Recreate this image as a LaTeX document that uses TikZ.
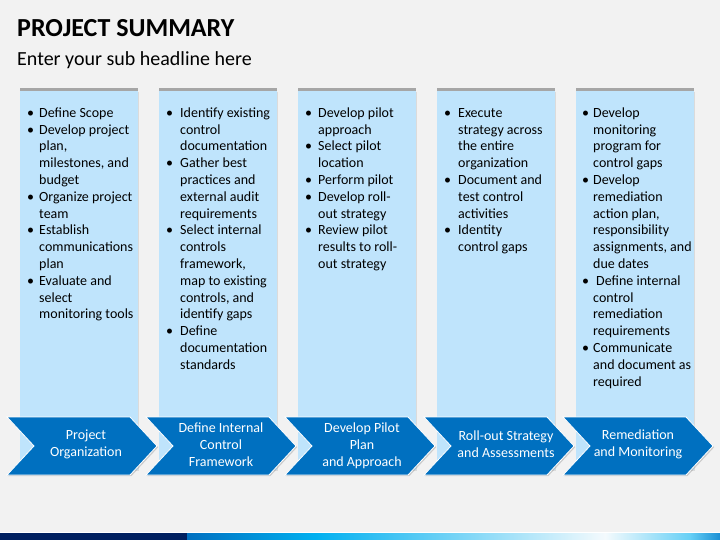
\documentclass[tikz,border=0pt]{standalone}
\usepackage{fontspec}
\setmainfont{Carlito}
\usetikzlibrary{shadows}

\definecolor{slidebg}{HTML}{F2F2F2}
\definecolor{colblue}{HTML}{BFE4FC}
\definecolor{colgray}{HTML}{A6A6A6}
\definecolor{chevblue}{HTML}{0070C0}
\definecolor{barnavy}{HTML}{002060}
\definecolor{barcyan}{HTML}{00B0F0}
\definecolor{barlight}{HTML}{F4FAFD}
\definecolor{barend}{HTML}{1A8FD4}

\tikzset{
  column/.style={fill=colblue, drop shadow={shadow xshift=1pt, shadow yshift=-1pt, opacity=0.2}},
  chevron/.style={fill=chevblue, draw=white, line width=0.8pt,
    drop shadow={shadow xshift=1.2pt, shadow yshift=-1.2pt, opacity=0.35}},
  phase/.style={text=white, align=center, inner sep=0pt, font=\fontsize{14}{16.8}\selectfont},
  bullets/.style={anchor=north west, inner sep=0pt, font=\fontsize{14}{16.8}\selectfont},
}

\begin{document}
\begin{tikzpicture}
  \begin{scope}[x=1pt, y=-1pt]
  \fill[slidebg] (0,0) rectangle (720,540);
  \useasboundingbox (0,0) rectangle (720,540);

  % headline
  \node[anchor=base west, inner sep=0pt, font=\fontsize{26}{31.2}\selectfont\bfseries] (title) at (17,36.5) {PROJECT SUMMARY};
  \node[anchor=base west, inner sep=0pt, font=\fontsize{20}{24}\selectfont] (subtitle) at (17,65.5) {Enter your sub headline here};

  % columns
  \fill[column] (20,91) rectangle (138,470);
  \fill[column] (159,91) rectangle (277,470);
  \fill[column] (298,91) rectangle (416,470);
  \fill[column] (437,91) rectangle (555,470);
  \fill[column] (576,91) rectangle (694,470);
  \fill[colgray] (20,88) rectangle (138,91);
  \fill[colgray] (159,88) rectangle (277,91);
  \fill[colgray] (298,88) rectangle (416,91);
  \fill[colgray] (437,88) rectangle (555,91);
  \fill[colgray] (576,88) rectangle (694,91);

  \node[bullets] (list1) at (27,105.3) {\begin{tabular}{@{}p{12pt}@{}l@{}}
    \textbullet & Define Scope\\
    \textbullet & Develop project\\ & plan,\\ & milestones, and\\ & budget\\
    \textbullet & Organize project\\ & team\\
    \textbullet & Establish\\ & communications\\ & plan\\
    \textbullet & Evaluate and\\ & select\\ & monitoring tools
  \end{tabular}};
  \node[bullets] (list2) at (166,105.3) {\begin{tabular}{@{}p{14pt}@{}l@{}}
    \textbullet & Identify existing\\ & control\\ & documentation\\
    \textbullet & Gather best\\ & practices and\\ & external audit\\ & requirements\\
    \textbullet & Select internal\\ & controls\\ & framework,\\ & map to existing\\ & controls, and\\ & identify gaps\\
    \textbullet & Define\\ & documentation\\ & standards
  \end{tabular}};
  \node[bullets] (list3) at (305,105.3) {\begin{tabular}{@{}p{13pt}@{}l@{}}
    \textbullet & Develop pilot\\ & approach\\
    \textbullet & Select pilot\\ & location\\
    \textbullet & Perform pilot\\
    \textbullet & Develop roll-\\ & out strategy\\
    \textbullet & Review pilot\\ & results to roll-\\ & out strategy
  \end{tabular}};
  \node[bullets] (list4) at (444,105.3) {\begin{tabular}{@{}p{14pt}@{}l@{}}
    \textbullet & Execute\\ & strategy across\\ & the entire\\ & organization\\
    \textbullet & Document and\\ & test control\\ & activities\\
    \textbullet & Identity\\ & control gaps
  \end{tabular}};
  \node[bullets] (list5) at (582,105.3) {\begin{tabular}{@{}p{11pt}@{}l@{}}
    \textbullet & Develop\\ & monitoring\\ & program for\\ & control gaps\\
    \textbullet & Develop\\ & remediation\\ & action plan,\\ & responsibility\\ & assignments, and\\ & due dates\\
    \textbullet & \hspace{3pt}Define internal\\ & control\\ & remediation\\ & requirements\\
    \textbullet & Communicate\\ & and document as\\ & required
  \end{tabular}};

  % chevrons
  \draw[chevron] (7,417) -- (130,417) -- (157,446) -- (130,475) -- (7,475) -- (34,446) -- cycle;
  \draw[chevron] (146,417) -- (269,417) -- (296,446) -- (269,475) -- (146,475) -- (173,446) -- cycle;
  \draw[chevron] (285,417) -- (408,417) -- (435,446) -- (408,475) -- (285,475) -- (312,446) -- cycle;
  \draw[chevron] (424,417) -- (547,417) -- (574,446) -- (547,475) -- (424,475) -- (451,446) -- cycle;
  \draw[chevron] (563,417) -- (686,417) -- (713,446) -- (686,475) -- (563,475) -- (590,446) -- cycle;

  \node[phase] (phase1) at (86,444.5) {Project\\Organization};
  \node[phase] (phase2) at (221,444.5) {Define Internal\\Control\\Framework};
  \node[phase] (phase3) at (362,445.5) {Develop Pilot\\Plan\\and Approach};
  \node[phase] (phase4) at (506,444.5) {Roll-out Strategy\\and Assessments};
  \node[phase] (phase5) at (638,444.5) {Remediation\\and Monitoring};

  % bottom bar
  \fill[white] (0,532) rectangle (720,533);
  \fill[barnavy] (0,533) rectangle (187,540);
  \shade[left color=chevblue, right color=barcyan] (187,533) rectangle (316,540);
  \shade[left color=barcyan, right color=barlight] (316,533) rectangle (605,540);
  \shade[left color=barlight, right color=barcyan!60] (605,533) rectangle (690,540);
  \shade[left color=barcyan!60, right color=barend] (690,533) rectangle (720,540);
  \end{scope}
\end{tikzpicture}
\end{document}
